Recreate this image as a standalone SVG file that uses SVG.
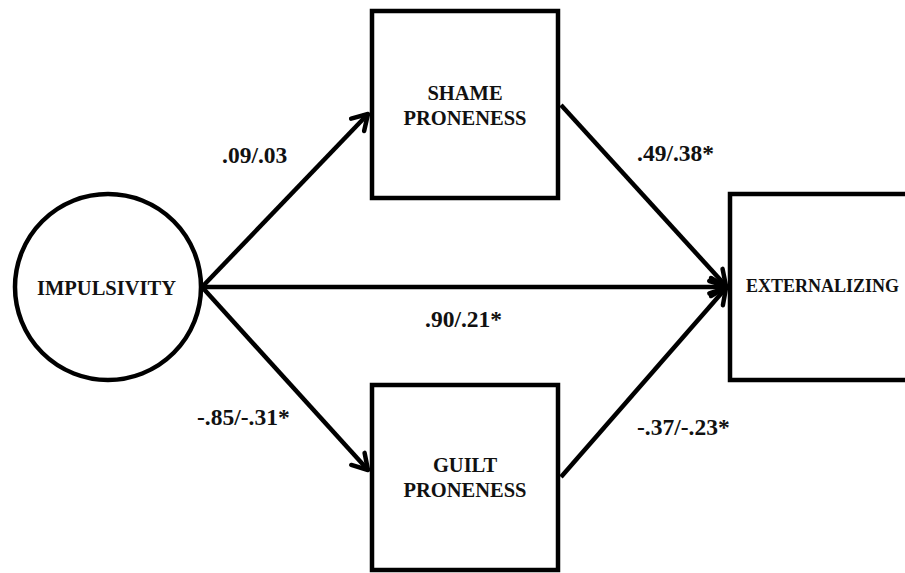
<svg xmlns="http://www.w3.org/2000/svg" width="905" height="573" viewBox="0 0 905 573">
<style>
.box{fill:#fff;stroke:#000;stroke-width:4.5}
.node{font-family:"Liberation Serif","Times New Roman",serif;font-weight:bold;font-size:20.5px;fill:#111;text-anchor:middle}
.lbl{font-family:"Liberation Serif","Times New Roman",serif;font-weight:bold;font-size:23.5px;fill:#111}
.edge{stroke:#000;stroke-width:4.5;fill:none;marker-end:url(#arr)}
</style>
<defs>
<marker id="arr" markerUnits="userSpaceOnUse" markerWidth="30" markerHeight="30" viewBox="-20 -15 30 30" refX="0" refY="0" orient="auto">
<path d="M -15 -9 L 0 0 L -15 9" fill="none" stroke="#000" stroke-width="4.5" stroke-linecap="round" stroke-linejoin="round"/>
</marker>
</defs>
<rect width="905" height="573" fill="#fff"/>
<g id="connectors">
<line class="edge" x1="202" y1="287" x2="368" y2="114"/>
<line class="edge" x1="202" y1="287" x2="726" y2="287"/>
<line class="edge" x1="202" y1="287" x2="368" y2="470"/>
<line class="edge" x1="561" y1="105" x2="726" y2="286"/>
<line class="edge" x1="561" y1="477" x2="726" y2="288"/>
</g>
<g id="impulsivity">
<circle class="box" cx="108" cy="287" r="93"/>
<text class="node" x="106.5" y="295">IMPULSIVITY</text>
</g>
<g id="shame">
<rect class="box" x="372" y="11" width="186" height="187"/>
<text class="node" x="465" y="100">SHAME</text>
<text class="node" x="465" y="125">PRONENESS</text>
</g>
<g id="guilt">
<rect class="box" x="372" y="385" width="186" height="185"/>
<text class="node" x="465" y="472">GUILT</text>
<text class="node" x="465" y="497">PRONENESS</text>
</g>
<g id="externalizing">
<rect class="box" x="730" y="194" width="200" height="186"/>
<text class="node" x="822.5" y="292" style="font-size:18px">EXTERNALIZING</text>
</g>
<g id="labels">
<text class="lbl" x="222" y="163">.09/.03</text>
<text class="lbl" x="637" y="161">.49/.38*</text>
<text class="lbl" x="425" y="327">.90/.21*</text>
<text class="lbl" x="197" y="425">-.85/-.31*</text>
<text class="lbl" x="637" y="435">-.37/-.23*</text>
</g>
</svg>
